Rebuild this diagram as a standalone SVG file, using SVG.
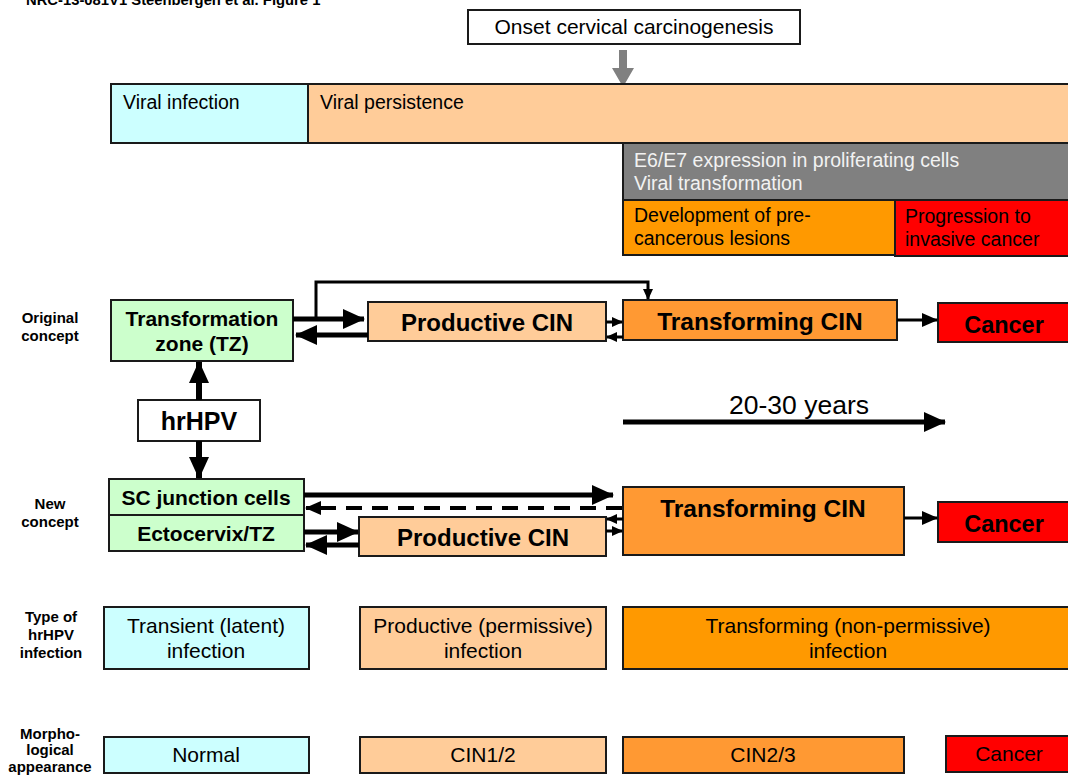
<svg xmlns="http://www.w3.org/2000/svg" width="1068" height="776" viewBox="0 0 1068 776">
<style>
text{font-family:"Liberation Sans",Arial,sans-serif;fill:#000}
.b{stroke:#1a1a1a;stroke-width:2}
.lbl{font-size:15px;font-weight:bold;text-anchor:middle}
.n16{font-size:19.5px}
.n21{font-size:21px;text-anchor:middle}
.bb{font-weight:bold;text-anchor:middle}
.c{text-anchor:middle}
.cy{fill:#CCFFFF}.pe{fill:#FFCC99}.or{fill:#FF9900}.or2{fill:#FF9933}.rd{fill:#FF0000}.gr{fill:#CCFFCC}
.ln{stroke:#000;fill:none}
</style>
<defs>
<marker id="ah" markerUnits="userSpaceOnUse" markerWidth="22" markerHeight="20" viewBox="0 0 22 20" refX="21" refY="10" orient="auto"><path d="M0,0 L22,10 L0,20 z" fill="#000"/></marker>
<marker id="am" markerUnits="userSpaceOnUse" markerWidth="16" markerHeight="14" viewBox="0 0 16 14" refX="15" refY="7" orient="auto"><path d="M0,0 L16,7 L0,14 z" fill="#000"/></marker>
<marker id="as" markerUnits="userSpaceOnUse" markerWidth="11" markerHeight="10" viewBox="0 0 11 10" refX="10" refY="5" orient="auto"><path d="M0,0 L11,5 L0,10 z" fill="#000"/></marker>
</defs>
<rect width="1068" height="776" fill="#fff"/>
<text x="26" y="5" font-size="14.8" font-weight="bold">NRC-13-081V1 Steenbergen et al. Figure 1</text>

<g id="onset"><rect class="b" x="468" y="10" width="332" height="34" fill="#fff"/><text class="c" x="634" y="34" font-size="21">Onset cervical carcinogenesis</text></g>
<g id="onset-arrow"><polygon points="619,50 627,50 627,68 634,68 623,87 612,68 619,68" fill="#808080"/></g>

<g id="viral-infection"><rect class="b cy" x="111" y="84" width="197" height="59"/><text class="n16" x="123" y="109">Viral infection</text></g>
<g id="viral-persistence"><rect class="b pe" x="308" y="84" width="770" height="59"/><text class="n16" x="320" y="109">Viral persistence</text></g>
<g id="e6e7"><rect class="b" x="623" y="143" width="455" height="57" fill="#808080"/><text class="n16" x="634" y="167" style="fill:#f2f2f2">E6/E7 expression in proliferating cells</text><text class="n16" x="634" y="190" style="fill:#f2f2f2">Viral transformation</text></g>
<g id="development"><rect class="b or" x="623" y="200" width="272" height="55"/><text class="n16" x="634" y="222">Development of pre-</text><text class="n16" x="634" y="245">cancerous lesions</text></g>
<g id="progression"><rect class="b rd" x="895" y="200" width="183" height="56"/><text class="n16" x="905" y="223">Progression to</text><text class="n16" x="905" y="246">invasive cancer</text></g>

<g id="label-original"><text class="lbl" x="50" y="323">Original</text><text class="lbl" x="50" y="341">concept</text></g>
<g id="tz"><rect class="b gr" x="111" y="300" width="182" height="61"/><text class="bb" x="202" y="326" font-size="21">Transformation</text><text class="bb" x="202" y="351" font-size="21">zone (TZ)</text></g>
<g id="prod1"><rect class="b pe" x="368" y="302" width="238" height="39"/><text class="bb" x="487" y="331" font-size="24">Productive CIN</text></g>
<g id="trans1"><rect class="b or2" x="623" y="300" width="274" height="40"/><text class="bb" x="760" y="330" font-size="24.5">Transforming CIN</text></g>
<g id="cancer1"><rect class="b rd" x="938" y="303" width="140" height="39"/><text class="bb" x="1004" y="333" font-size="23.5">Cancer</text></g>

<g id="hrhpv"><rect class="b" x="138" y="400" width="122" height="41" fill="#fff"/><text class="bb" x="199" y="430" font-size="25">hrHPV</text></g>

<g id="years"><text class="c" x="799" y="414" font-size="26.5">20-30 years</text></g>

<g id="label-new"><text class="lbl" x="50" y="509">New</text><text class="lbl" x="50" y="527">concept</text></g>
<g id="sc"><rect class="b gr" x="109" y="479" width="195" height="36"/><text class="bb" x="206" y="505" font-size="21">SC junction cells</text></g>
<g id="ecto"><rect class="b gr" x="109" y="515" width="195" height="36"/><text class="bb" x="206" y="541" font-size="21">Ectocervix/TZ</text></g>
<g id="prod2"><rect class="b pe" x="359" y="517" width="247" height="39"/><text class="bb" x="483" y="546" font-size="24">Productive CIN</text></g>
<g id="trans2"><rect class="b or2" x="623" y="487" width="281" height="68"/><text class="bb" x="763" y="517" font-size="24.5">Transforming CIN</text></g>
<g id="cancer2"><rect class="b rd" x="938" y="502" width="140" height="40"/><text class="bb" x="1004" y="532" font-size="23.5">Cancer</text></g>

<g id="label-type"><text class="lbl" x="51" y="622">Type of</text><text class="lbl" x="51" y="640">hrHPV</text><text class="lbl" x="51" y="658">infection</text></g>
<g id="transient"><rect class="b cy" x="104" y="607" width="205" height="62"/><text class="n21" x="206" y="633">Transient (latent)</text><text class="n21" x="206" y="658">infection</text></g>
<g id="productive-inf"><rect class="b pe" x="360" y="607" width="246" height="62"/><text class="n21" x="483" y="633">Productive (permissive)</text><text class="n21" x="483" y="658">infection</text></g>
<g id="transforming-inf"><rect class="b or" x="623" y="607" width="455" height="62"/><text class="n21" x="848" y="633">Transforming (non-permissive)</text><text class="n21" x="848" y="658">infection</text></g>

<g id="label-morph"><text class="lbl" x="50" y="739">Morpho-</text><text class="lbl" x="50" y="755">logical</text><text class="lbl" x="50" y="772">appearance</text></g>
<g id="normal"><rect class="b cy" x="104" y="737" width="205" height="36"/><text class="n21" x="206" y="762">Normal</text></g>
<g id="cin12"><rect class="b pe" x="360" y="737" width="246" height="36"/><text class="n21" x="483" y="762">CIN1/2</text></g>
<g id="cin23"><rect class="b or2" x="623" y="737" width="281" height="36"/><text class="n21" x="763" y="762">CIN2/3</text></g>
<g id="cancer3"><rect class="b rd" x="946" y="736" width="132" height="36"/><text class="n21" x="1009" y="761">Cancer</text></g>

<g id="connectors">
<line class="ln" x1="293" y1="319" x2="364" y2="319" stroke-width="5" marker-end="url(#ah)"/>
<line class="ln" x1="368" y1="335" x2="296" y2="335" stroke-width="5" marker-end="url(#ah)"/>
<polyline class="ln" points="316,319 316,282 648,282 648,299" stroke-width="3" marker-end="url(#as)"/>
<line class="ln" x1="606" y1="322" x2="622" y2="322" stroke-width="3" marker-end="url(#as)"/>
<line class="ln" x1="623" y1="337" x2="607" y2="337" stroke-width="3" marker-end="url(#as)"/>
<line class="ln" x1="897" y1="320" x2="937" y2="320" stroke-width="3" marker-end="url(#am)"/>
<line class="ln" x1="199" y1="400" x2="199" y2="362" stroke-width="6" marker-end="url(#ah)"/>
<line class="ln" x1="199" y1="441" x2="199" y2="478" stroke-width="6" marker-end="url(#ah)"/>
<line class="ln" x1="623" y1="422" x2="945" y2="422" stroke-width="5" marker-end="url(#ah)"/>
<line class="ln" x1="304" y1="495" x2="613" y2="495" stroke-width="5" marker-end="url(#ah)"/>
<line class="ln" x1="622" y1="508" x2="322" y2="508" stroke-width="4" stroke-dasharray="16,10"/>
<line class="ln" x1="322" y1="508" x2="306" y2="508" stroke-width="4" marker-end="url(#am)"/>
<line class="ln" x1="304" y1="532" x2="358" y2="532" stroke-width="5" marker-end="url(#ah)"/>
<line class="ln" x1="359" y1="545" x2="306" y2="545" stroke-width="5" marker-end="url(#ah)"/>
<line class="ln" x1="623" y1="519" x2="607" y2="519" stroke-width="3" marker-end="url(#as)"/>
<line class="ln" x1="606" y1="531" x2="622" y2="531" stroke-width="3" marker-end="url(#as)"/>
<line class="ln" x1="904" y1="518" x2="937" y2="518" stroke-width="3" marker-end="url(#am)"/>
</g>
</svg>
